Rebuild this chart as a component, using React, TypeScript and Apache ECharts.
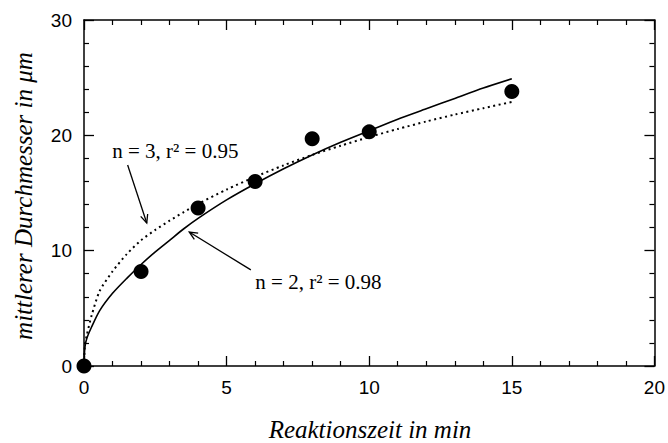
import { useEffect, useRef } from "react";
import * as echarts from "echarts";

// Measured particle diameters over reaction time
const timeMin = [0, 2, 4, 6, 8, 10, 15];
const meanDiameter = [0, 8.2, 13.7, 16.0, 19.7, 20.3, 23.8];

// Fitted growth curves (n = 2 solid, n = 3 dotted)
const fitTime = [0, 0.03, 0.1, 0.27, 0.55, 1, 1.5, 2, 2.5, 3, 3.5, 4, 5, 6, 7, 8, 9, 10, 11, 12, 13, 14, 15];
const fitN2 = [0, 1.6, 2.4, 3.4, 4.8, 6.3, 7.6, 8.8, 9.9, 10.9, 11.9, 12.8, 14.4, 15.8, 17.1, 18.3, 19.4, 20.4, 21.4, 22.3, 23.2, 24.1, 24.9];
const fitN3 = [0, 1.8, 2.7, 4.4, 6.5, 8.2, 9.7, 10.9, 11.8, 12.6, 13.35, 14.05, 15.3, 16.4, 17.4, 18.3, 19.1, 19.85, 20.55, 21.2, 21.8, 22.35, 22.9];

// Axis ranges
const xRange = [0, 20];
const xStep = 5;
const yRange = [0, 30];
const yStep = 10;

const xTitle = "Reaktionszeit in min";
const yTitle = "mittlerer Durchmesser in μm";

// Fit annotations, anchored in data units
const noteN3 = { text: "n = 3, r² = 0.95", at: [3.2, 18.65], from: [1.53, 17.43], to: [2.2, 12.4] };
const noteN2 = { text: "n = 2, r² = 0.98", at: [8.22, 7.29], from: [5.85, 8.33], to: [3.69, 11.62] };

const INK = "#000";
const SANS = "Liberation Sans, Arial, sans-serif";
const SERIF = "Liberation Serif, Times New Roman, serif";

function pairs(xs: number[], ys: number[]) {
  return xs.map((x, i) => [x, ys[i]]);
}

function axisCommon(showLabel: boolean) {
  return {
    axisLine: { show: true, onZero: false, lineStyle: { color: INK, width: 1.5 } },
    axisTick: { show: true, inside: true, length: 10, lineStyle: { color: INK, width: 1.3 } },
    minorTick: { show: true, splitNumber: 5, length: 5, lineStyle: { color: INK, width: 1.2 } },
    splitLine: { show: false },
    minorSplitLine: { show: false },
    axisLabel: {
      show: showLabel,
      color: INK,
      fontFamily: SANS,
      fontSize: 19,
      margin: 12,
    },
  };
}

export default function App() {
  const ref = useRef<HTMLDivElement | null>(null);

  useEffect(() => {
    if (!ref.current) return;
    const chart = echarts.init(ref.current, null, { renderer: "svg" });

    chart.setOption({
      animation: false,
      backgroundColor: "#fff",
      grid: { left: 84, right: 10, top: 20, bottom: 77, containLabel: false },
      xAxis: [
        { type: "value", position: "bottom", min: xRange[0], max: xRange[1], interval: xStep, ...axisCommon(true) },
        { type: "value", position: "top", min: xRange[0], max: xRange[1], interval: xStep, ...axisCommon(false) },
      ],
      yAxis: [
        { type: "value", position: "left", min: yRange[0], max: yRange[1], interval: yStep, ...axisCommon(true) },
        { type: "value", position: "right", min: yRange[0], max: yRange[1], interval: yStep, ...axisCommon(false) },
      ],
      series: [
        {
          type: "line",
          data: pairs(fitTime, fitN3),
          showSymbol: false,
          smooth: 0.25,
          lineStyle: { color: INK, width: 2, type: [2, 3.5] },
          z: 2,
        },
        {
          type: "line",
          data: pairs(fitTime, fitN2),
          showSymbol: false,
          smooth: 0.25,
          lineStyle: { color: INK, width: 1.6 },
          z: 2,
        },
        {
          type: "scatter",
          data: pairs(timeMin, meanDiameter),
          symbol: "circle",
          symbolSize: 15,
          itemStyle: { color: INK, opacity: 1 },
          z: 3,
        },
      ],
    });

    const px = (p: number[]) => chart.convertToPixel({ gridIndex: 0 }, p) as number[];

    const arrow = (from: number[], to: number[]) => {
      const a = px(from);
      const b = px(to);
      const ang = Math.atan2(a[1] - b[1], a[0] - b[0]);
      const len = 9;
      const spread = 0.42;
      return [
        {
          type: "line",
          shape: { x1: a[0], y1: a[1], x2: b[0], y2: b[1] },
          style: { stroke: INK, lineWidth: 1.3 },
          silent: true,
        },
        {
          type: "polyline",
          shape: {
            points: [
              [b[0] + len * Math.cos(ang + spread), b[1] + len * Math.sin(ang + spread)],
              [b[0], b[1]],
              [b[0] + len * Math.cos(ang - spread), b[1] + len * Math.sin(ang - spread)],
            ],
          },
          style: { stroke: INK, lineWidth: 1.3, fill: "none" },
          silent: true,
        },
      ];
    };

    const textStyle = (text: string, font: string) => ({
      text,
      font,
      fill: INK,
      align: "center",
      verticalAlign: "middle",
      textAlign: "center",
      textVerticalAlign: "middle",
    });

    const note = (n: typeof noteN3) => {
      const c = px(n.at);
      return {
        type: "text",
        x: c[0],
        y: c[1],
        silent: true,
        style: textStyle(n.text, `21px ${SERIF}`),
      };
    };

    chart.setOption({
      graphic: [
        note(noteN3),
        note(noteN2),
        ...arrow(noteN3.from, noteN3.to),
        ...arrow(noteN2.from, noteN2.to),
        {
          type: "text",
          x: 370,
          y: 429,
          silent: true,
          style: textStyle(xTitle, `italic 25px ${SERIF}`),
        },
        {
          type: "text",
          x: 23,
          y: 196,
          rotation: Math.PI / 2,
          silent: true,
          style: textStyle(yTitle, `italic 25px ${SERIF}`),
        },
      ],
    });

    return () => chart.dispose();
  }, []);

  return (
    <div
      ref={ref}
      style={{ position: "fixed", left: 0, top: 0, width: 668, height: 443, background: "#fff" }}
    />
  );
}
